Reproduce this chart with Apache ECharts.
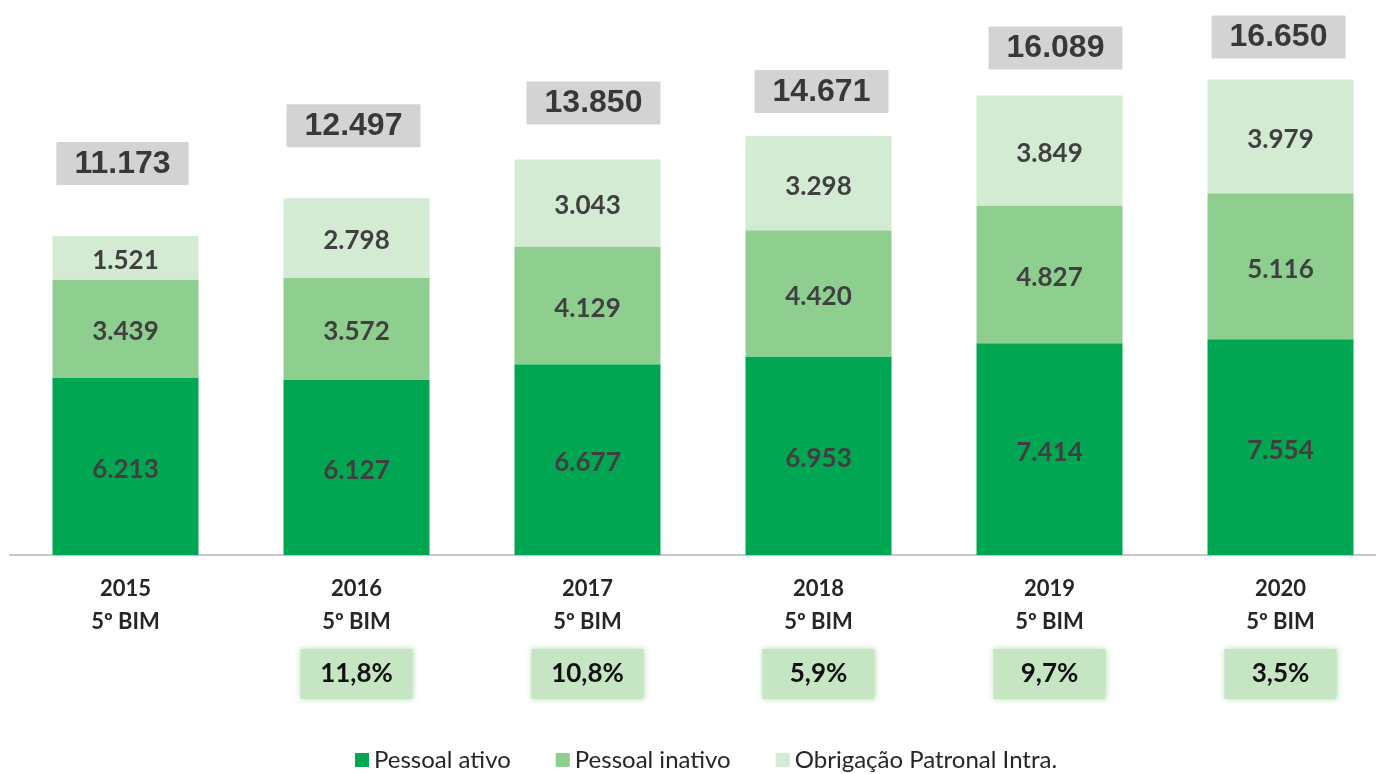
<!DOCTYPE html>
<html>
<head>
<meta charset="utf-8">
<script src="https://cdn.jsdelivr.net/npm/echarts@6/dist/echarts.min.js"></script>
<style>
html,body{margin:0;padding:0;background:#fff;}
#main{width:1376px;height:774px;}
</style>
</head>
<body>
<div id="main"></div>
<script>
// ---- data ----
const years = ["2015", "2016", "2017", "2018", "2019", "2020"];
const periodLabel = "5º BIM";
const pessoalAtivo = [6213, 6127, 6677, 6953, 7414, 7554];
const pessoalInativo = [3439, 3572, 4129, 4420, 4827, 5116];
const obrigacaoPatronal = [1521, 2798, 3043, 3298, 3849, 3979];
const totals = [11173, 12497, 13850, 14671, 16089, 16650];
const growth = ["", "11,8%", "10,8%", "5,9%", "9,7%", "3,5%"];
const seriesNames = ["Pessoal ativo", "Pessoal inativo", "Obrigação Patronal Intra."];

// ---- styles (not data) ----
const totalGap = [51, 51, 35, 23, 26, 21];
const totalDx = [-3, -3, 6, 3, 6, -2];
const colors = ["#00a651", "#8ecf8f", "#d3ead3"];
const labelFont = "Lato, 'Open Sans', sans-serif";

function fmt(v) {
  return String(v).replace(/\B(?=(\d{3})+(?!\d))/g, ".");
}

const chart = echarts.init(document.getElementById('main'), null, {renderer: 'canvas'});

const segLabel = {
  show: true,
  position: 'inside',
  formatter: p => fmt(p.value),
  color: '#404040',
  fontFamily: labelFont,
  fontWeight: 'bold',
  fontSize: 26,
  offset: [0, 3]
};

const option = {
  animation: false,
  backgroundColor: '#ffffff',
  grid: {left: 10, width: 1386, top: 41, bottom: 219, containLabel: false, outerBoundsMode: 'none'},
  legend: {
    data: seriesNames,
    left: 350,
    top: 743,
    itemWidth: 14,
    itemHeight: 14,
    itemGap: 45,
    icon: 'rect',
    textStyle: {fontFamily: labelFont, fontSize: 24, color: '#262626'}
  },
  xAxis: {
    type: 'category',
    data: years,
    axisLine: {show: true, lineStyle: {color: '#c8c8c8', width: 2}},
    axisTick: {show: false},
    axisLabel: {
      interval: 0,
      margin: 17,
      formatter: (val, idx) => {
        let s = '{y|' + val + '}\n{y|' + periodLabel + '}\n{s| }';
        if (growth[idx]) s += '\n{p|' + growth[idx] + '}';
        return s;
      },
      rich: {
        y: {fontFamily: labelFont, fontWeight: 'bold', fontSize: 22, color: '#262626', lineHeight: 33, align: 'center'},
        s: {fontSize: 1, lineHeight: 11},
        p: {
          fontFamily: labelFont, fontWeight: 'bold', fontSize: 26, color: '#111111',
          backgroundColor: '#c6e5c3', width: 112, height: 50, lineHeight: 50, align: 'center',
          shadowColor: 'rgba(170,215,165,0.9)', shadowBlur: 6
        }
      }
    }
  },
  yAxis: {type: 'value', min: 0, max: 18000, show: false, splitLine: {show: false}},
  series: [
    {name: seriesNames[0], type: 'bar', stack: 'total', barWidth: 146, data: pessoalAtivo,
     itemStyle: {color: colors[0]}, label: segLabel},
    {name: seriesNames[1], type: 'bar', stack: 'total', barWidth: 146, data: pessoalInativo,
     itemStyle: {color: colors[1]}, label: segLabel},
    {name: seriesNames[2], type: 'bar', stack: 'total', barWidth: 146, data: obrigacaoPatronal,
     itemStyle: {color: colors[2]}, label: segLabel},
    {name: 'Total', type: 'scatter', symbolSize: 0, silent: true, z: 10,
     data: totals.map((v, i) => ({value: v, label: {distance: totalGap[i], offset: [totalDx[i], 0]}})),
     label: {
       show: true, position: 'top',
       formatter: p => fmt(p.value),
       fontFamily: "'Liberation Sans', Arial, sans-serif", fontWeight: 'bold', fontSize: 32, color: '#111111',
       backgroundColor: '#c8c8c8', padding: [6, 18, 5, 18]
     }
    }
  ]
};
chart.setOption(option);
</script>
</body>
</html>
